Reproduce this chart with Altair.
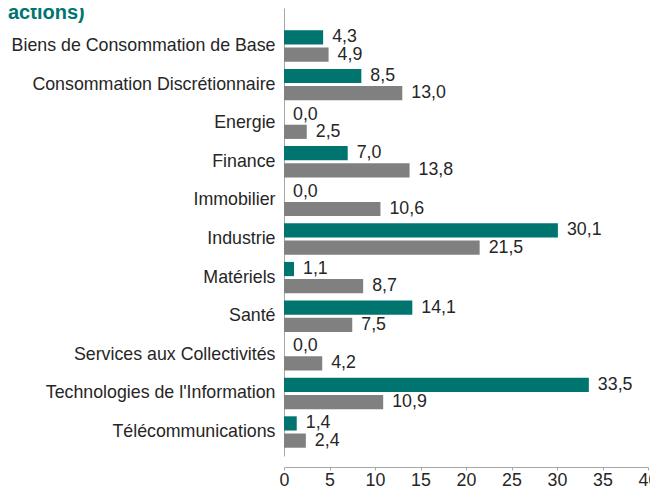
import altair as alt
import pandas as pd

categories = [
    "Biens de Consommation de Base",
    "Consommation Discrétionnaire",
    "Energie",
    "Finance",
    "Immobilier",
    "Industrie",
    "Matériels",
    "Santé",
    "Services aux Collectivités",
    "Technologies de l'Information",
    "Télécommunications",
]
series_names = ["Fonds", "Indice"]
fonds = [4.3, 8.5, 0.0, 7.0, 0.0, 30.1, 1.1, 14.1, 0.0, 33.5, 1.4]
indice = [4.9, 13.0, 2.5, 13.8, 10.6, 21.5, 8.7, 7.5, 4.2, 10.9, 2.4]
x_ticks = [0, 5, 10, 15, 20, 25, 30, 35, 40]
title_text = "actions)"

colors = ["#00756f", "#808080"]
FONT = "Liberation Sans"
FS = 17.8

rows = []
for i, c in enumerate(categories):
    for s, vals in zip(series_names, [fonds, indice]):
        v = vals[i]
        rows.append({"cat": c, "serie": s, "val": v,
                     "lbl": f"{v:.1f}".replace(".", ",")})
df = pd.DataFrame(rows)

y_enc = alt.Y(
    "cat:N", sort=categories,
    scale=alt.Scale(paddingInner=0, paddingOuter=0.303, align=0.8),
    axis=alt.Axis(title=None, ticks=False, domainColor="#a6a6a6", domainWidth=1,
                  labelFontSize=FS, labelColor="#262626", labelPadding=9,
                  labelLimit=0, labelFont=FONT),
)
yoff = alt.YOffset("serie:N", sort=series_names,
                   scale=alt.Scale(paddingInner=0.174, paddingOuter=0.209))
x_enc = alt.X(
    "val:Q",
    scale=alt.Scale(domain=[0, 40], nice=False),
    axis=alt.Axis(title=None, values=x_ticks, grid=False, offset=11,
                  domainColor="#a6a6a6", tickColor="#a6a6a6", tickSize=3,
                  labelFontSize=FS, labelColor="#262626", labelPadding=1,
                  labelFont=FONT, labelFlush=False),
)

base = alt.Chart(df)
bars = base.mark_bar().encode(
    y=y_enc, yOffset=yoff, x=x_enc,
    color=alt.Color("serie:N", sort=series_names,
                    scale=alt.Scale(domain=series_names, range=colors), legend=None),
)
labels = base.mark_text(align="left", baseline="middle", dx=9, fontSize=FS,
                        font=FONT, color="#262626").encode(
    y=alt.Y("cat:N", sort=categories), yOffset=yoff, x="val:Q", text="lbl:N",
)
title = alt.Chart(pd.DataFrame({"t": [title_text]})).mark_text(
    align="left", baseline="alphabetic", fontSize=20, fontWeight="bold",
    font=FONT, color="#00756f",
).encode(x=alt.value(-276), y=alt.value(11), text="t:N")

chart = alt.layer(bars, labels, title).properties(
    width=364, height=448,
    autosize=alt.AutoSizeParams(type="none"),
    padding={"left": 276, "top": 0, "right": 2, "bottom": 35},
).configure_view(stroke=None)

chart.save("out.html", embed_options={"renderer": "svg", "actions": False})
